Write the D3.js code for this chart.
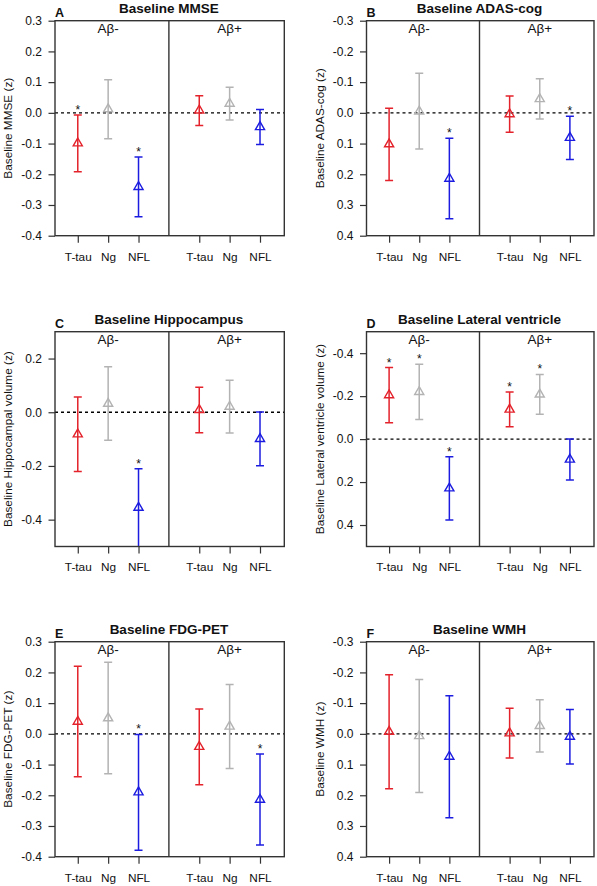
<!DOCTYPE html>
<html>
<head>
<meta charset="utf-8">
<script src="https://cdn.jsdelivr.net/npm/d3@7"></script>
<style>
  html, body { margin: 0; padding: 0; background: #fff; }
  svg { display: block; font-family: "Liberation Sans", Arial, sans-serif; }
</style>
</head>
<body>
<svg id="chart" width="597" height="886"></svg>
<script>
// ---------------- DATA ----------------
const categories = ["T-tau", "Ng", "NFL"];
const groups = ["Aβ-", "Aβ+"];
const panelLetters = ["A", "B", "C", "D", "E", "F"];
const panelTitles = ["Baseline MMSE", "Baseline ADAS-cog", "Baseline Hippocampus",
                     "Baseline Lateral ventricle", "Baseline FDG-PET", "Baseline WMH"];
const yLabels = ["Baseline MMSE (z)", "Baseline ADAS-cog (z)", "Baseline Hippocampal volume (z)",
                 "Baseline Lateral ventricle volume (z)", "Baseline FDG-PET (z)", "Baseline WMH (z)"];
// y domains as [value at bottom, value at top]
const yDomains = [[-0.4, 0.3], [0.4, -0.3], [-0.5, 0.3], [0.5, -0.5], [-0.4, 0.3], [0.4, -0.3]];
const yTicks = [
  [-0.4, -0.3, -0.2, -0.1, 0, 0.1, 0.2, 0.3],
  [-0.3, -0.2, -0.1, 0, 0.1, 0.2, 0.3, 0.4],
  [-0.4, -0.2, 0, 0.2],
  [-0.4, -0.2, 0, 0.2, 0.4],
  [-0.4, -0.3, -0.2, -0.1, 0, 0.1, 0.2, 0.3],
  [-0.3, -0.2, -0.1, 0, 0.1, 0.2, 0.3, 0.4]
];
// order in each array: Aβ- (T-tau, Ng, NFL), Aβ+ (T-tau, Ng, NFL)
const mmseMean  = [-0.099, 0.012, -0.241, 0.008, 0.030, -0.046];
const mmseLow   = [-0.192, -0.084, -0.338, -0.041, -0.023, -0.103];
const mmseHigh  = [-0.007, 0.108, -0.144, 0.056, 0.083, 0.011];
const mmseSig   = [1, 0, 1, 0, 0, 0];

const adasMean  = [0.102, -0.005, 0.214, 0.004, -0.045, 0.081];
const adasLow   = [-0.015, -0.129, 0.083, -0.055, -0.111, 0.011];
const adasHigh  = [0.220, 0.118, 0.345, 0.063, 0.020, 0.152];
const adasSig   = [0, 0, 1, 0, 0, 1];

const hippMean  = [-0.082, 0.032, -0.355, 0.009, 0.021, -0.099];
const hippLow   = [-0.221, -0.104, -0.510, -0.076, -0.077, -0.199];
const hippHigh  = [0.057, 0.169, -0.210, 0.093, 0.119, 0.001];
const hippSig   = [0, 0, 1, 0, 0, 0];

const ventMean  = [-0.205, -0.220, 0.229, -0.138, -0.208, 0.095];
const ventLow   = [-0.333, -0.349, 0.082, -0.219, -0.301, 0.000];
const ventHigh  = [-0.076, -0.091, 0.377, -0.057, -0.116, 0.190];
const ventSig   = [1, 1, 1, 1, 1, 0];

const fdgMean   = [0.040, 0.051, -0.190, -0.042, 0.024, -0.214];
const fdgLow    = [-0.140, -0.130, -0.379, -0.166, -0.113, -0.362];
const fdgHigh   = [0.220, 0.233, -0.002, 0.081, 0.161, -0.066];
const fdgSig    = [0, 0, 1, 0, 0, 1];

const wmhMean   = [-0.007, 0.007, 0.074, -0.002, -0.026, 0.009];
const wmhLow    = [-0.192, -0.177, -0.124, -0.083, -0.111, -0.079];
const wmhHigh   = [0.179, 0.191, 0.273, 0.079, 0.059, 0.098];
const wmhSig    = [0, 0, 0, 0, 0, 0];

const panelMeans = [mmseMean, adasMean, hippMean, ventMean, fdgMean, wmhMean];
const panelLows  = [mmseLow, adasLow, hippLow, ventLow, fdgLow, wmhLow];
const panelHighs = [mmseHigh, adasHigh, hippHigh, ventHigh, fdgHigh, wmhHigh];
const panelSigs  = [mmseSig, adasSig, hippSig, ventSig, fdgSig, wmhSig];

// ---------------- LAYOUT ----------------
const colors = ["#e3222b", "#b3b3b3", "#1c1ce0"];
const cols = [{left: 55, right: 284.3}, {left: 366.5, right: 594}];
const rows = [{top: 20.7, bottom: 235.7}, {top: 331.7, bottom: 546.5}, {top: 641.7, bottom: 856.7}];

const svg = d3.select("#chart");

panelTitles.forEach((title, p) => {
  const c = cols[p % 2], r = rows[Math.floor(p / 2)];
  const x = d3.scaleLinear().domain([0.25, 7.8]).range([c.left, c.right]);
  const y = d3.scaleLinear().domain(yDomains[p]).range([r.bottom, r.top]);
  const g = svg.append("g");
  const clipId = "clip" + p;
  svg.append("clipPath").attr("id", clipId).append("rect")
    .attr("x", c.left).attr("y", r.top).attr("width", c.right - c.left).attr("height", r.bottom - r.top);

  const xPos = d => Math.floor(d / 3) * 4 + (d % 3) + 1;
  const tickXs = d3.range(6).map(xPos);

  // y axis
  const yAxis = d3.axisLeft(y).tickValues(yTicks[p]).tickFormat(v => v.toFixed(1))
    .tickSize(6.5).tickPadding(6.5);
  const ya = g.append("g").attr("transform", `translate(${c.left},0)`).call(yAxis);
  ya.select(".domain").remove();
  ya.selectAll("line").attr("stroke", "#333").attr("stroke-width", 1.2);
  ya.selectAll("text").attr("font-size", 12).attr("fill", "#111")
    .attr("font-family", "Liberation Sans, Arial, sans-serif");

  // x axis
  const xAxis = d3.axisBottom(x).tickValues(tickXs).tickFormat((v, i) => categories[i % 3])
    .tickSize(7).tickPadding(9.5);
  const xa = g.append("g").attr("transform", `translate(0,${r.bottom})`).call(xAxis);
  xa.select(".domain").remove();
  xa.selectAll("line").attr("stroke", "#333").attr("stroke-width", 1.2);
  xa.selectAll("text").attr("font-size", 11.8).attr("fill", "#111")
    .attr("font-family", "Liberation Sans, Arial, sans-serif");

  // zero line
  g.append("line").attr("x1", c.left).attr("x2", c.right).attr("y1", y(0)).attr("y2", y(0))
    .attr("stroke", "#000").attr("stroke-width", 1.3).attr("stroke-dasharray", "3,3");

  // error bars
  const eg = g.append("g").attr("clip-path", `url(#${clipId})`);
  d3.range(6).forEach(i => {
    const cx = x(xPos(i)), col = colors[i % 3];
    const yl = y(panelLows[p][i]), yh = y(panelHighs[p][i]);
    eg.append("line").attr("x1", cx).attr("x2", cx).attr("y1", yl).attr("y2", yh)
      .attr("stroke", col).attr("stroke-width", 1.5);
    [yl, yh].forEach(yy => {
      eg.append("line").attr("x1", cx - 4).attr("x2", cx + 4).attr("y1", yy).attr("y2", yy)
        .attr("stroke", col).attr("stroke-width", 1.5);
    });
    eg.append("path").attr("d", d3.symbol(d3.symbolTriangle, 36)())
      .attr("transform", `translate(${cx},${y(panelMeans[p][i])})`)
      .attr("fill", "none").attr("stroke", col).attr("stroke-width", 1.4);
    if (panelSigs[p][i]) {
      const topY = Math.min(yl, yh);
      g.append("text").attr("x", cx).attr("y", topY - 1).attr("text-anchor", "middle")
        .attr("font-size", 12).attr("fill", "#111").text("*");
    }
  });

  // box and divider
  g.append("rect").attr("x", c.left).attr("y", r.top).attr("width", c.right - c.left)
    .attr("height", r.bottom - r.top).attr("fill", "none").attr("stroke", "#333").attr("stroke-width", 1.4);
  g.append("line").attr("x1", x(4)).attr("x2", x(4)).attr("y1", r.top).attr("y2", r.bottom)
    .attr("stroke", "#333").attr("stroke-width", 1.4);

  // group labels
  groups.forEach((gl, k) => {
    g.append("text").attr("x", x(k * 4 + 2)).attr("y", r.top + 12).attr("text-anchor", "middle")
      .attr("font-size", 13.5).attr("fill", "#111").text(gl);
  });

  // title and letter
  g.append("text").attr("x", x(4)).attr("y", r.top - 7.5).attr("text-anchor", "middle")
    .attr("font-size", 13.5).attr("font-weight", "bold").attr("fill", "#111").text(title);
  g.append("text").attr("x", c.left).attr("y", r.top - 4).attr("text-anchor", "start")
    .attr("font-size", 12.5).attr("font-weight", "bold").attr("fill", "#111").text(panelLetters[p]);

  // y label
  g.append("text").attr("transform", `translate(${c.left - 46.7},${(r.top + r.bottom) / 2}) rotate(-90)`)
    .attr("text-anchor", "middle").attr("dy", "0.35em").attr("font-size", 11.8)
    .attr("fill", "#111").text(yLabels[p]);
});
</script>
</body>
</html>
